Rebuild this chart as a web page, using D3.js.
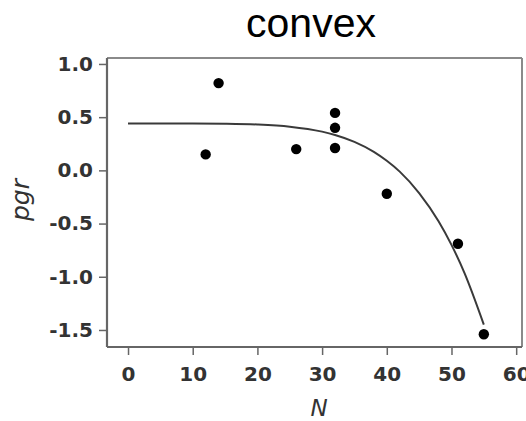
<!DOCTYPE html>
<html><head><meta charset="utf-8">
<script src="https://cdn.jsdelivr.net/npm/d3@7"></script>
<style>body{margin:0;background:#fff}</style>
</head><body>
<svg id="c" width="526" height="421"></svg>
<script>
const pointN   = [12, 14, 26, 32, 32, 32, 40, 51, 55];
const pointPgr = [0.15, 0.82, 0.20, 0.54, 0.40, 0.21, -0.22, -0.69, -1.54];
const curveN   = [0, 5, 10, 15, 20, 25, 30, 32, 35, 38, 40, 42, 45, 48, 50, 52, 55];
const curvePgr = [0.44, 0.44, 0.44, 0.438, 0.431, 0.411, 0.364, 0.333, 0.268, 0.174, 0.09, -0.012, -0.213, -0.478, -0.70, -0.963, -1.45];
const xTicks = [0, 10, 20, 30, 40, 50, 60];
const yTicks = [1.0, 0.5, 0.0, -0.5, -1.0, -1.5];

const svg = d3.select("#c");
const L = 107, R = 522, T = 58, B = 347;
const x = d3.scaleLinear().domain([-3.25, 60.9]).range([L, R]);
const y = d3.scaleLinear().domain([-1.66, 1.056]).range([B, T]);

svg.append("text").attr("x", 311).attr("y", 37).attr("text-anchor", "middle")
  .style("font-family", "Liberation Sans, Arial, sans-serif").style("font-size", "41px")
  .attr("fill", "#000").text("convex");

// frame
svg.append("line").attr("x1", L).attr("x2", R).attr("y1", T).attr("y2", T).attr("stroke", "#8a8a8a").attr("stroke-width", 2);
svg.append("line").attr("x1", R).attr("x2", R).attr("y1", T).attr("y2", B).attr("stroke", "#8a8a8a").attr("stroke-width", 2);

const xa = svg.append("g").attr("transform", `translate(0,${B})`)
  .call(d3.axisBottom(x).tickValues(xTicks).tickSize(8).tickPadding(12).tickFormat(d3.format("d")));
const ya = svg.append("g").attr("transform", `translate(${L},0)`)
  .call(d3.axisLeft(y).tickValues(yTicks).tickSize(8).tickPadding(6).tickFormat(d3.format(".1f")));
[xa, ya].forEach(a => {
  a.select(".domain").attr("stroke", "#666").attr("stroke-width", 2.2);
  a.selectAll(".tick line").attr("stroke", "#666").attr("stroke-width", 1.5);
  a.selectAll("text").style("font-family", "DejaVu Sans, Verdana, sans-serif").style("font-size", "20px")
    .attr("fill", "#333").style("font-weight", "bold");
});
xa.select(".domain").attr("d", `M${L},0H${R}`);
ya.select(".domain").attr("d", `M0,${T}V${B}`);
ya.selectAll("text").text(d => d3.format(".1f")(d).replace("−", "-"));

// curve
svg.append("path").datum(curveN.map((n, i) => [n, curvePgr[i]]))
  .attr("d", d3.line().x(d => x(d[0])).y(d => y(d[1])).curve(d3.curveMonotoneX))
  .attr("fill", "none").attr("stroke", "#3a3a3a").attr("stroke-width", 2);

// points
svg.selectAll("circle.p").data(pointN.map((n, i) => [n, pointPgr[i]])).enter()
  .append("circle").attr("class", "p").attr("cx", d => x(d[0])).attr("cy", d => y(d[1]))
  .attr("r", 5.2).attr("fill", "#000");

// axis labels
svg.append("text").attr("transform", "translate(29,200) rotate(-90)").attr("text-anchor", "middle")
  .style("font-family", "DejaVu Sans, Verdana, sans-serif").style("font-size", "25px").style("font-style", "italic")
  .attr("fill", "#333").text("pgr");
svg.append("text").attr("x", 319).attr("y", 416).attr("text-anchor", "middle")
  .style("font-family", "DejaVu Sans, Verdana, sans-serif").style("font-size", "23px").style("font-style", "italic")
  .attr("fill", "#333").text("N");
</script>
</body></html>
